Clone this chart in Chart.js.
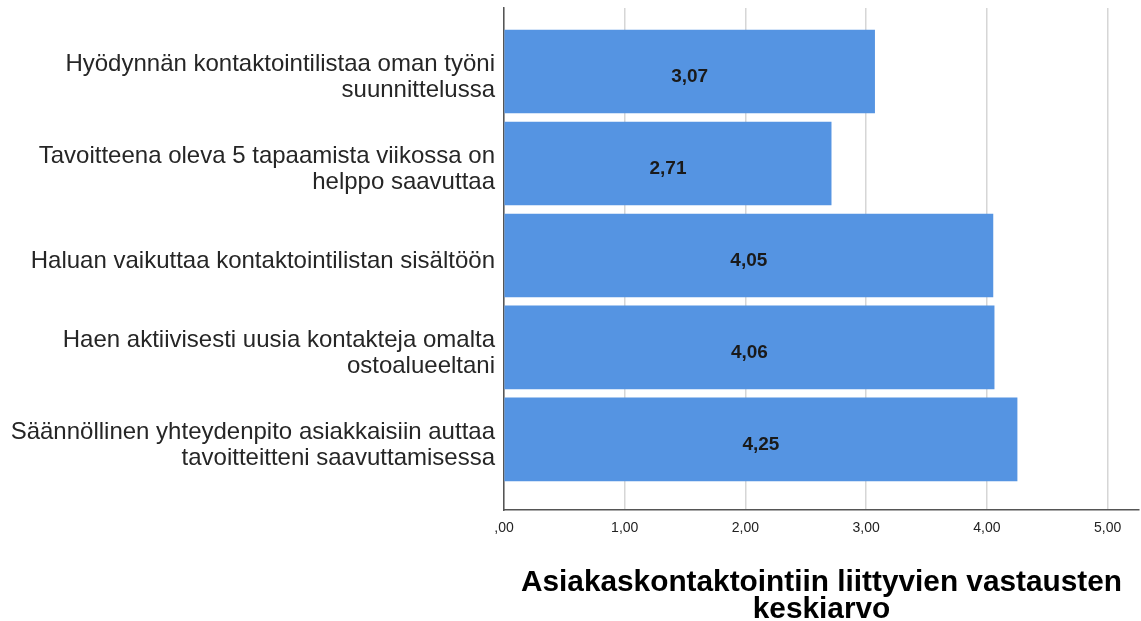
<!DOCTYPE html>
<html lang="fi">
<head>
<meta charset="utf-8">
<title>Asiakaskontaktointiin liittyvien vastausten keskiarvo</title>
<script src="https://cdn.jsdelivr.net/npm/chart.js@4.4.1/dist/chart.umd.min.js"></script>
<style>
  html, body { margin: 0; padding: 0; background: #fff; }
  canvas { display: block; }
</style>
</head>
<body>
<canvas id="chart" width="1141" height="621"></canvas>
<script>
// Statements (y axis), split where the label wraps
const statements = [
  ['Hyödynnän kontaktointilistaa oman työni', 'suunnittelussa'],
  ['Tavoitteena oleva 5 tapaamista viikossa on', 'helppo saavuttaa'],
  ['Haluan vaikuttaa kontaktointilistan sisältöön'],
  ['Haen aktiivisesti uusia kontakteja omalta', 'ostoalueeltani'],
  ['Säännöllinen yhteydenpito asiakkaisiin auttaa', 'tavoitteitteni saavuttamisessa']
];
const means = [3.07, 2.71, 4.05, 4.06, 4.25];

const xTicks = [0, 1, 2, 3, 4, 5];
const xTickLabels = [',00', '1,00', '2,00', '3,00', '4,00', '5,00'];
const axisTitle = ['Asiakaskontaktointiin liittyvien vastausten', 'keskiarvo'];

const FONT = '"Liberation Sans", Arial, Helvetica, sans-serif';

function fmt(v) {
  return v.toFixed(2).replace('.', ',');
}

// value printed in the middle of each bar
const barValueLabels = {
  id: 'barValueLabels',
  afterDatasetsDraw(chart) {
    const ctx = chart.ctx;
    const meta = chart.getDatasetMeta(0);
    ctx.save();
    ctx.font = 'bold 19px ' + FONT;
    ctx.fillStyle = '#1a1a1a';
    ctx.textAlign = 'center';
    ctx.textBaseline = 'middle';
    meta.data.forEach((bar, i) => {
      ctx.fillText(fmt(means[i]), (bar.x + bar.base) / 2, bar.y + 5);
    });
    ctx.restore();
  }
};

new Chart(document.getElementById('chart'), {
  type: 'bar',
  data: {
    datasets: [{
      data: means.map((m, i) => ({ x: m, y: i })),
      backgroundColor: '#5594e2',
      borderWidth: 0,
      barThickness: 83
    }]
  },
  plugins: [barValueLabels],
  options: {
    indexAxis: 'y',
    responsive: false,
    animation: false,
    layout: { padding: { top: 8, right: 2, left: 0, bottom: 0 } },
    plugins: {
      legend: { display: false },
      tooltip: { enabled: false }
    },
    scales: {
      x: {
        type: 'linear',
        min: 0,
        max: 5.26,
        afterBuildTicks: axis => { axis.ticks = xTicks.map(v => ({ value: v })); },
        afterFit: axis => { axis.height = 111; },
        grid: { color: '#d6d6d6', lineWidth: 1.5, drawTicks: false },
        border: { display: true, color: '#555', width: 1.5 },
        ticks: {
          color: '#222',
          padding: 10,
          maxRotation: 0,
          font: { family: FONT, size: 14 },
          callback: (v, i) => xTickLabels[i]
        },
        title: {
          display: true,
          text: axisTitle,
          color: '#000',
          padding: { top: 0, bottom: -2 },
          font: { family: FONT, size: 29.8, weight: 'bold', lineHeight: '27px' }
        }
      },
      y: {
        type: 'linear',
        reverse: true,
        offset: false,
        min: -0.69,
        max: 4.767,
        afterBuildTicks: axis => { axis.ticks = statements.map((_, i) => ({ value: i })); },
        afterFit: axis => {
          axis.width = 504;
          axis.paddingTop = 0;
          axis.paddingBottom = 0;
        },
        grid: { display: false, drawTicks: false },
        border: { display: true, color: '#555', width: 1.5 },
        ticks: {
          color: '#262626',
          padding: 9,
          labelOffset: 6,
          font: { family: FONT, size: 24, lineHeight: '26px' },
          callback: v => statements[v]
        }
      }
    }
  }
});
</script>
</body>
</html>
